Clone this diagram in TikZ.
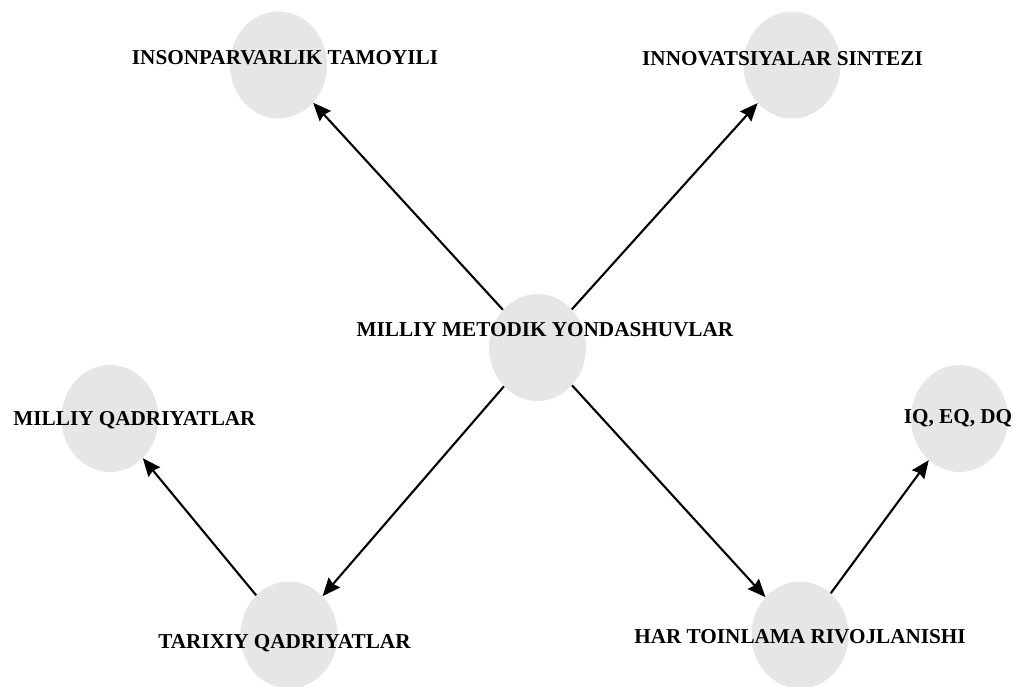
\documentclass[tikz,border=0pt]{standalone}
\usepackage{fontspec}
\setmainfont{Liberation Serif}
\usetikzlibrary{arrows.meta}
\definecolor{bubble}{RGB}{230,230,230}
\tikzset{
  bub/.style={ellipse, fill=bubble, minimum width=97pt, minimum height=107pt, inner sep=0pt},
  lbl/.style={anchor=base, inner sep=0pt, font=\fontsize{21.2}{25}\selectfont\bfseries},
  conn/.style={line width=2.1pt, -{Stealth[length=18pt,width=15pt,inset=2pt]}, shorten >=0pt}
}
\usetikzlibrary{shapes.geometric}
\begin{document}
\begin{tikzpicture}[x=1pt,y=-1pt]
\useasboundingbox (0,0) rectangle (1013,687);
% bubbles
\node[bub] (A) at (278.5,65) {};
\node[bub] (B) at (792,65) {};
\node[bub] (C) at (537.5,347.5) {};
\node[bub] (D) at (110,418.5) {};
\node[bub] (E) at (289,635) {};
\node[bub] (F) at (959.5,418.5) {};
\node[bub] (G) at (800,635) {};
% connectors
\draw[conn] (C) -- (A);
\draw[conn] (C) -- (B);
\draw[conn] (C) -- (E);
\draw[conn] (C) -- (G);
\draw[conn] (E) -- (D);
\draw[conn] (G) -- (F);
% labels
\node[lbl] (tA) at (285,65) {INSONPARVARLIK TAMOYILI};
\node[lbl] (tB) at (782.5,66) {INNOVATSIYALAR SINTEZI};
\node[lbl] (tC) at (545,337) {MILLIY METODIK YONDASHUVLAR};
\node[lbl] (tD) at (134.5,425) {MILLIY QADRIYATLAR};
\node[lbl] (tE) at (284.5,648) {TARIXIY QADRIYATLAR};
\node[lbl] (tF) at (958,423) {IQ, EQ, DQ};
\node[lbl] (tG) at (800,643) {HAR TOINLAMA RIVOJLANISHI};
\end{tikzpicture}
\end{document}
